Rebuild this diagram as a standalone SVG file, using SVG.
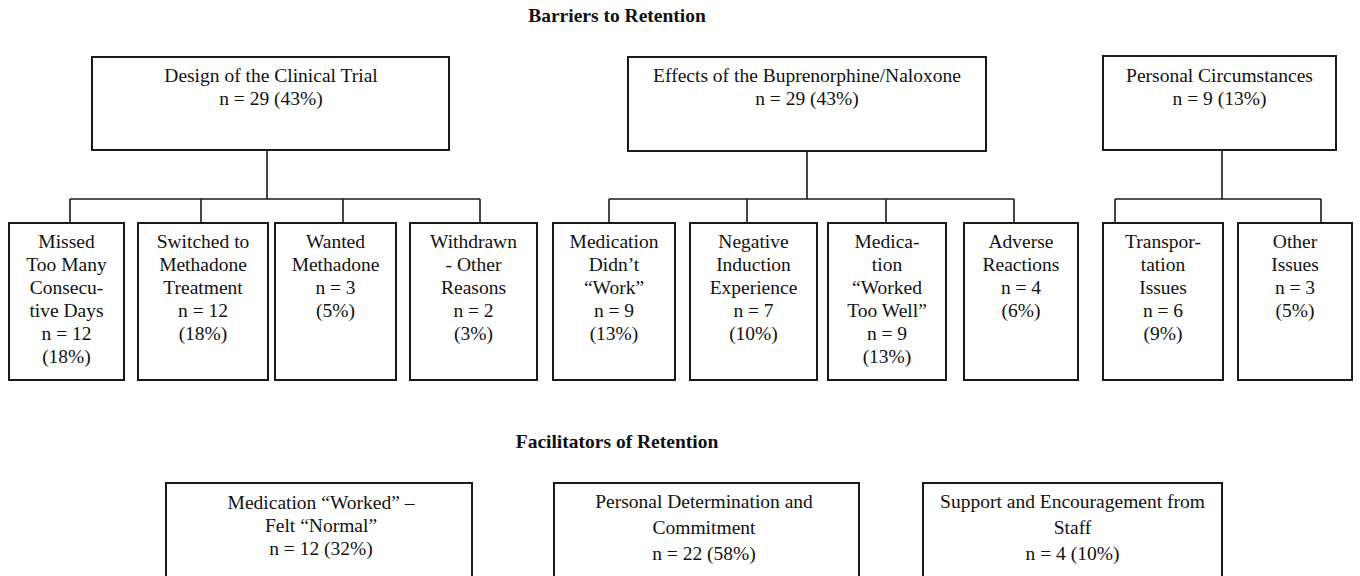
<svg xmlns="http://www.w3.org/2000/svg" width="1360" height="576" viewBox="0 0 1360 576">
<style>
  .box { fill: #ffffff; stroke: #1a1a1a; stroke-width: 2; }
  .conn { fill: none; stroke: #1a1a1a; stroke-width: 1.6; }
  text { font-family: "Liberation Serif", "Times New Roman", serif; font-size: 19.5px; fill: #111111; text-anchor: middle; }
  .title { font-weight: bold; }
</style>
<rect x="0" y="0" width="1360" height="576" fill="#ffffff"/>

<text class="title" x="617" y="22">Barriers to Retention</text>
<text class="title" x="617" y="448">Facilitators of Retention</text>

<g id="connectors">
  <path class="conn" d="M267 150 V199 M70 199 H480 M70 199 V223 M201 199 V223 M343 199 V223 M480 199 V223"/>
  <path class="conn" d="M807 151 V199 M609 199 H1014 M609 199 V223 M747 199 V223 M886 199 V223 M1014 199 V223"/>
  <path class="conn" d="M1222 150 V199 M1115 199 H1321 M1115 199 V223 M1321 199 V223"/>
</g>

<g id="design">
  <rect class="box" x="92" y="57" width="357" height="93"/>
  <text x="271" y="82">Design of the Clinical Trial</text>
  <text x="271" y="105">n = 29 (43%)</text>
</g>
<g id="effects">
  <rect class="box" x="628" y="57" width="358" height="94"/>
  <text x="807" y="82">Effects of the Buprenorphine/Naloxone</text>
  <text x="807" y="105">n = 29 (43%)</text>
</g>
<g id="personal">
  <rect class="box" x="1103" y="56" width="233" height="94"/>
  <text x="1219.5" y="82">Personal Circumstances</text>
  <text x="1219.5" y="105">n = 9 (13%)</text>
</g>

<g id="missed">
  <rect class="box" x="9" y="223" width="115" height="157"/>
  <text x="66.5" y="248">Missed</text>
  <text x="66.5" y="271">Too Many</text>
  <text x="66.5" y="294">Consecu-</text>
  <text x="66.5" y="317">tive Days</text>
  <text x="66.5" y="340">n = 12</text>
  <text x="66.5" y="363">(18%)</text>
</g>
<g id="switched">
  <rect class="box" x="138" y="223" width="130" height="157"/>
  <text x="203" y="248">Switched to</text>
  <text x="203" y="271">Methadone</text>
  <text x="203" y="294">Treatment</text>
  <text x="203" y="317">n = 12</text>
  <text x="203" y="340">(18%)</text>
</g>
<g id="wanted">
  <rect class="box" x="275" y="223" width="121" height="157"/>
  <text x="335.5" y="248">Wanted</text>
  <text x="335.5" y="271">Methadone</text>
  <text x="335.5" y="294">n = 3</text>
  <text x="335.5" y="317">(5%)</text>
</g>
<g id="withdrawn">
  <rect class="box" x="410" y="223" width="127" height="157"/>
  <text x="473.5" y="248">Withdrawn</text>
  <text x="473.5" y="271">- Other</text>
  <text x="473.5" y="294">Reasons</text>
  <text x="473.5" y="317">n = 2</text>
  <text x="473.5" y="340">(3%)</text>
</g>
<g id="didnt-work">
  <rect class="box" x="553" y="223" width="122" height="157"/>
  <text x="614" y="248">Medication</text>
  <text x="614" y="271">Didn’t</text>
  <text x="614" y="294">“Work”</text>
  <text x="614" y="317">n = 9</text>
  <text x="614" y="340">(13%)</text>
</g>
<g id="negative">
  <rect class="box" x="690" y="223" width="127" height="157"/>
  <text x="753.5" y="248">Negative</text>
  <text x="753.5" y="271">Induction</text>
  <text x="753.5" y="294">Experience</text>
  <text x="753.5" y="317">n = 7</text>
  <text x="753.5" y="340">(10%)</text>
</g>
<g id="too-well">
  <rect class="box" x="828" y="223" width="118" height="157"/>
  <text x="887" y="248">Medica-</text>
  <text x="887" y="271">tion</text>
  <text x="887" y="294">“Worked</text>
  <text x="887" y="317">Too Well”</text>
  <text x="887" y="340">n = 9</text>
  <text x="887" y="363">(13%)</text>
</g>
<g id="adverse">
  <rect class="box" x="964" y="223" width="114" height="157"/>
  <text x="1021" y="248">Adverse</text>
  <text x="1021" y="271">Reactions</text>
  <text x="1021" y="294">n = 4</text>
  <text x="1021" y="317">(6%)</text>
</g>
<g id="transport">
  <rect class="box" x="1103" y="223" width="120" height="157"/>
  <text x="1163" y="248">Transpor-</text>
  <text x="1163" y="271">tation</text>
  <text x="1163" y="294">Issues</text>
  <text x="1163" y="317">n = 6</text>
  <text x="1163" y="340">(9%)</text>
</g>
<g id="other">
  <rect class="box" x="1238" y="223" width="114" height="157"/>
  <text x="1295" y="248">Other</text>
  <text x="1295" y="271">Issues</text>
  <text x="1295" y="294">n = 3</text>
  <text x="1295" y="317">(5%)</text>
</g>

<g id="felt-normal">
  <rect class="box" x="166" y="483" width="306" height="100"/>
  <text x="321" y="509">Medication “Worked” –</text>
  <text x="321" y="532">Felt “Normal”</text>
  <text x="321" y="555">n = 12 (32%)</text>
</g>
<g id="determination">
  <rect class="box" x="554" y="483" width="305" height="100"/>
  <text x="704" y="508">Personal Determination and</text>
  <text x="704" y="534">Commitment</text>
  <text x="704" y="560">n = 22 (58%)</text>
</g>
<g id="support">
  <rect class="box" x="923" y="483" width="299" height="100"/>
  <text x="1072.5" y="508">Support and Encouragement from</text>
  <text x="1072.5" y="534">Staff</text>
  <text x="1072.5" y="560">n = 4 (10%)</text>
</g>
</svg>
